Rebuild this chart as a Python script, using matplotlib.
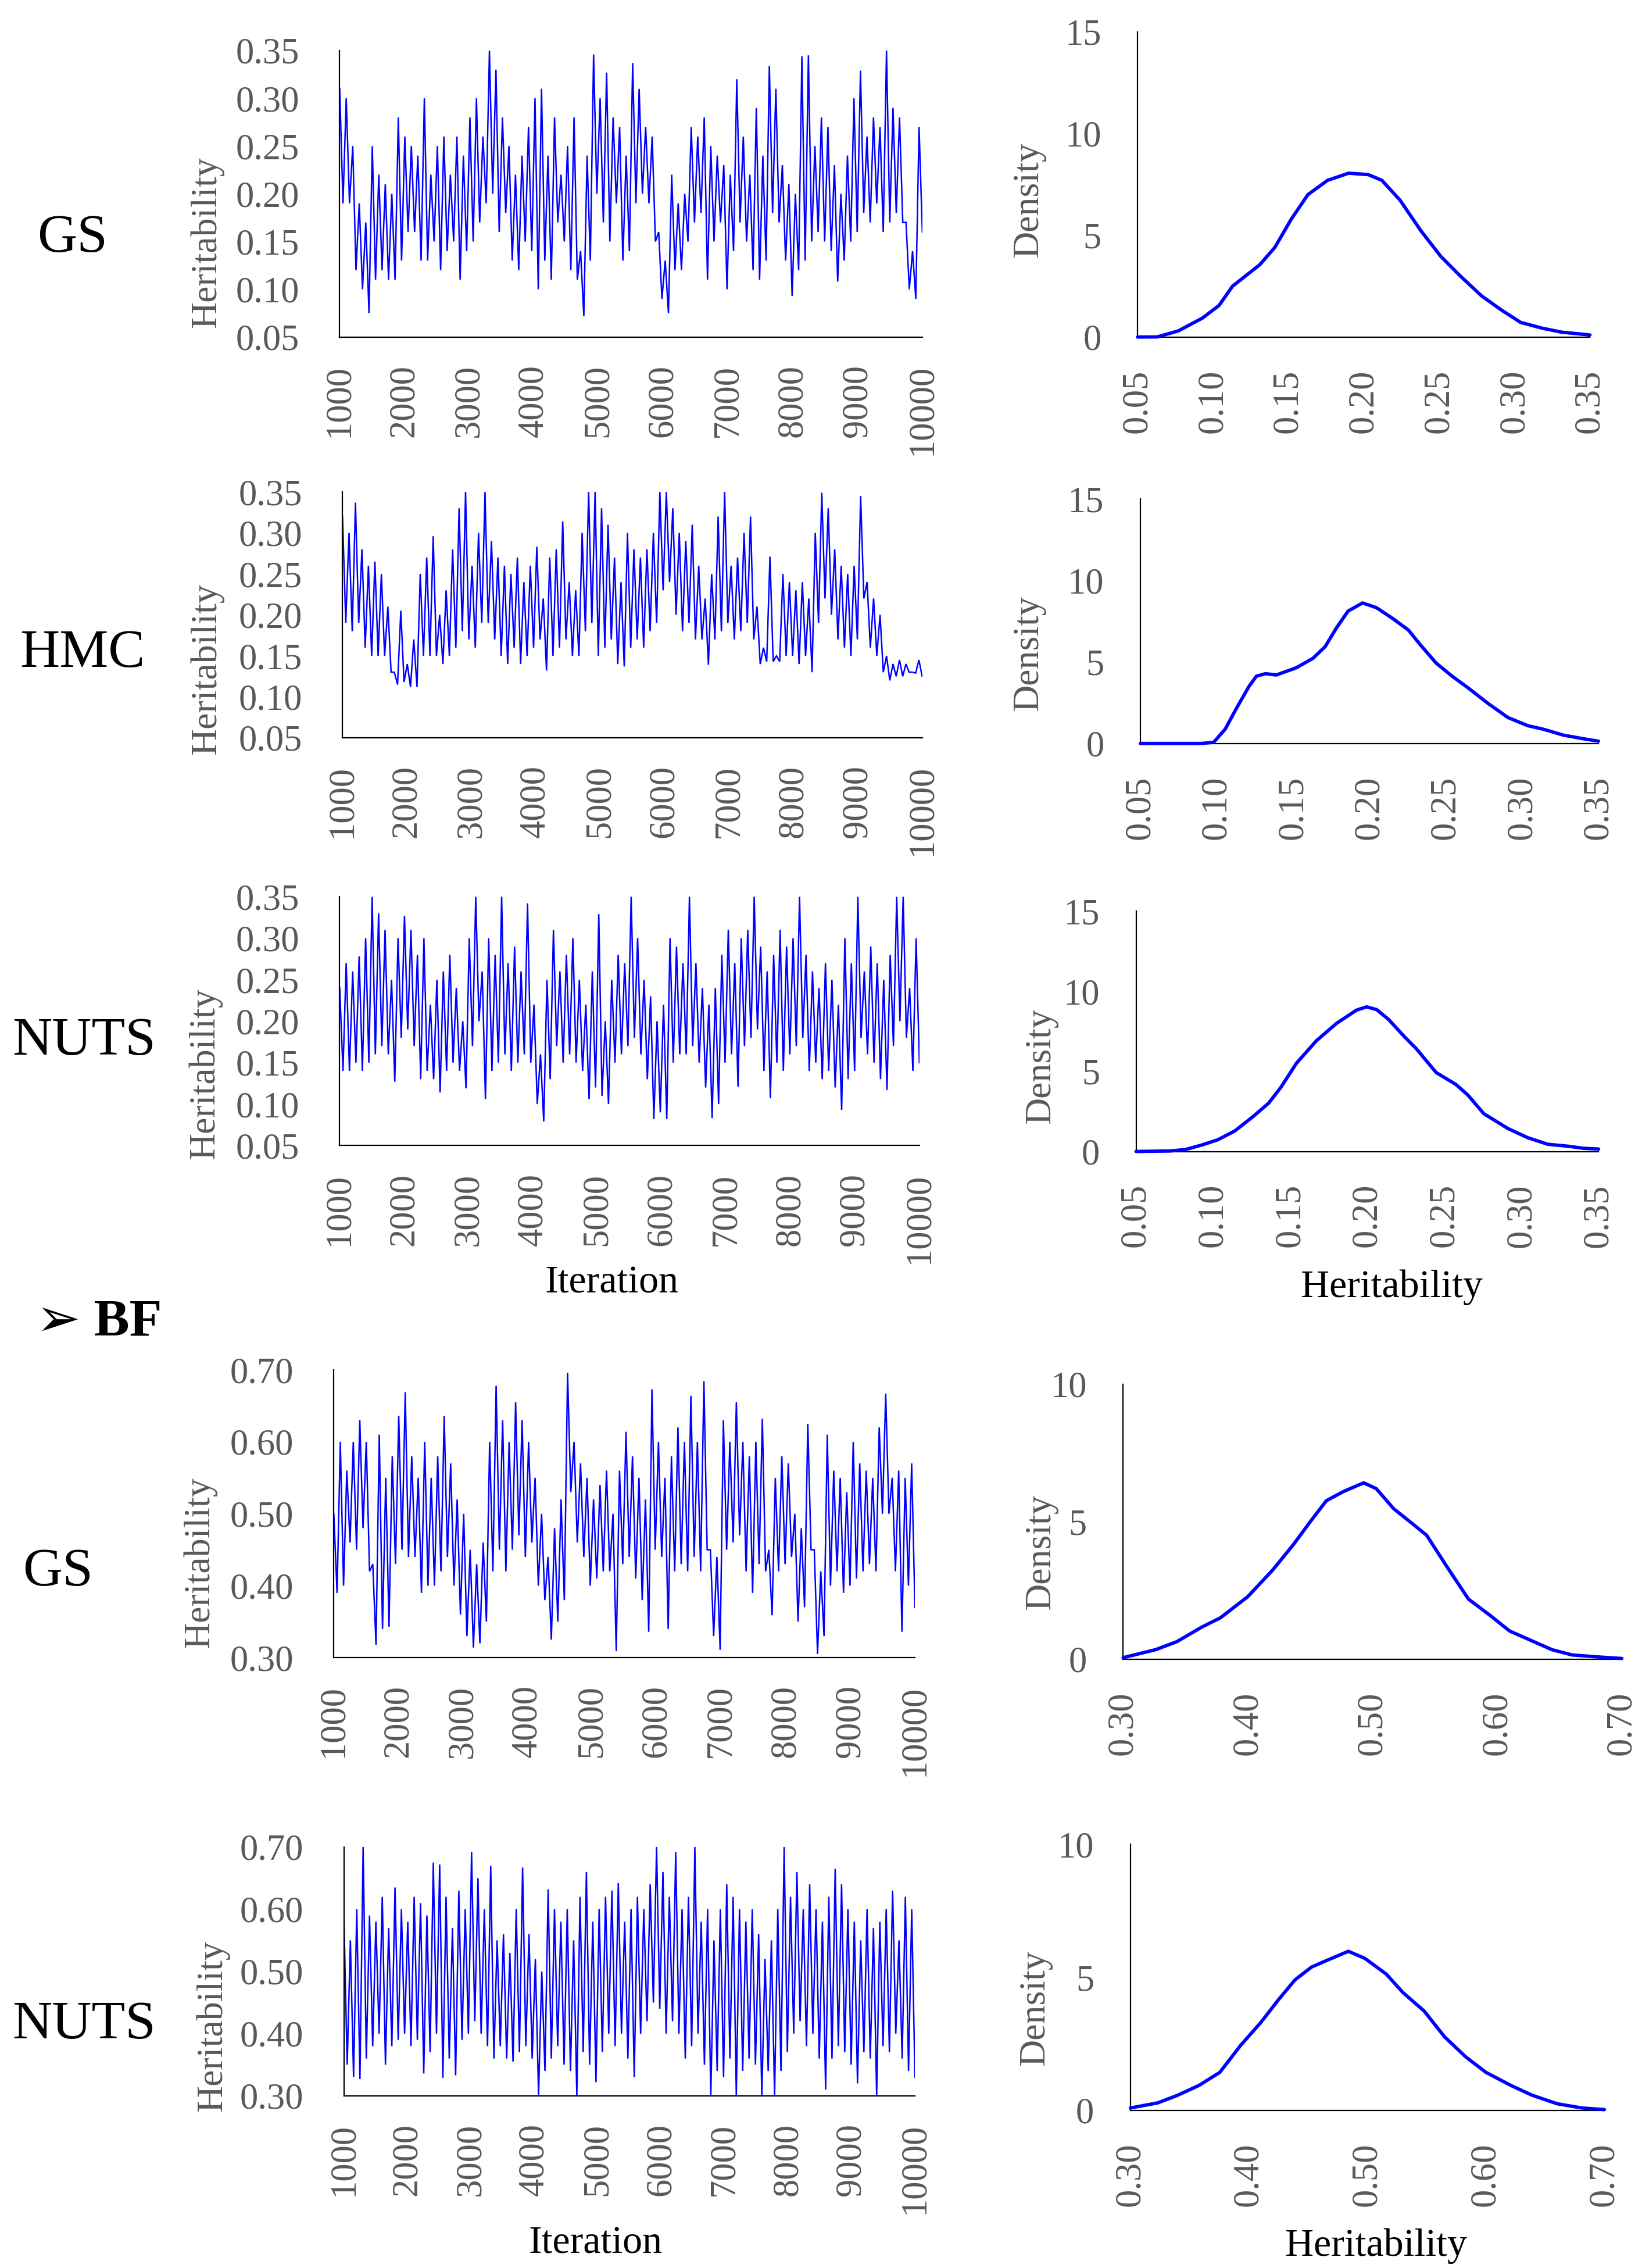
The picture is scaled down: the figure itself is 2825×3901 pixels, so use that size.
import numpy as np
import matplotlib.pyplot as plt

plt.rcParams['font.family'] = ['Liberation Serif', 'DejaVu Sans']

BLUE = '#0000FF'
GREY = '#595959'

iter_ticks = list(range(1000, 10001, 1000))
h_ticks = [0.05, 0.10, 0.15, 0.20, 0.25, 0.30, 0.35]
bf_ticks = [0.30, 0.40, 0.50, 0.60, 0.70]

# chain traces, read per 100 iterations as (high, low) of the band
gs_hi = [.31, .30, .25, .19, .17, .25, .22, .21, .20, .28,
         .26, .25, .24, .30, .22, .25, .26, .22, .26, .24,
         .28, .30, .26, .35, .33, .28, .25, .22, .24, .27,
         .30, .31, .24, .28, .22, .25, .28, .14, .24, .346,
         .30, .327, .28, .27, .24, .337, .31, .27, .26, .16,
         .13, .22, .19, .20, .27, .26, .28, .25, .24, .23,
         .22, .32, .26, .22, .29, .24, .334, .31, .23, .21,
         .20, .344, .345, .25, .28, .27, .23, .20, .24, .30,
         .329, .26, .28, .27, .35, .29, .28, .17, .14, .27]
gs_lo = [.19, .19, .12, .10, .075, .11, .12, .11, .11, .13,
         .16, .16, .13, .13, .15, .12, .14, .15, .11, .14,
         .15, .17, .19, .20, .16, .18, .13, .12, .15, .14,
         .10, .13, .11, .17, .15, .12, .11, .072, .13, .20,
         .17, .15, .19, .13, .14, .19, .20, .19, .15, .09,
         .075, .12, .12, .15, .17, .18, .11, .15, .17, .10,
         .14, .17, .15, .12, .11, .13, .18, .17, .13, .093,
         .12, .13, .15, .16, .15, .14, .108, .13, .15, .16,
         .18, .17, .19, .16, .17, .18, .17, .10, .09, .16]

hmc_hi = [.32, .30, .337, .28, .26, .265, .25, .21, .13, .205,
          .14, .17, .25, .27, .296, .20, .23, .28, .33, .35,
          .26, .30, .35, .29, .27, .26, .25, .27, .24, .26,
          .283, .22, .27, .28, .314, .24, .23, .30, .35, .35,
          .33, .31, .27, .24, .30, .28, .27, .28, .30, .35,
          .35, .33, .30, .29, .31, .26, .22, .25, .32, .35,
          .26, .27, .30, .32, .21, .16, .271, .15, .25, .24,
          .23, .24, .22, .30, .349, .33, .28, .26, .25, .26,
          .345, .24, .22, .20, .15, .14, .145, .14, .13, .145]
hmc_lo = [.19, .18, .19, .16, .15, .15, .15, .13, .115, .118,
          .112, .112, .15, .15, .15, .14, .15, .16, .18, .17,
          .16, .19, .19, .17, .15, .14, .16, .14, .15, .16,
          .17, .132, .15, .16, .17, .15, .15, .18, .19, .15,
          .16, .17, .14, .137, .16, .17, .16, .18, .19, .23,
          .24, .20, .18, .19, .17, .17, .139, .17, .18, .19,
          .17, .18, .19, .17, .14, .143, .143, .143, .15, .15,
          .14, .15, .13, .19, .22, .20, .17, .16, .15, .17,
          .22, .16, .15, .13, .12, .125, .125, .13, .129, .125]

nuts_hi = [.24, .27, .26, .278, .30, .35, .33, .31, .25, .30,
           .327, .31, .28, .30, .22, .25, .26, .28, .24, .20,
           .30, .35, .26, .30, .28, .35, .27, .29, .26, .342,
           .22, .16, .25, .31, .26, .28, .30, .25, .22, .26,
           .329, .20, .25, .28, .27, .35, .30, .25, .23, .20,
           .22, .30, .29, .27, .35, .27, .24, .22, .24, .28,
           .31, .27, .30, .31, .35, .29, .26, .28, .31, .29,
           .30, .35, .28, .26, .24, .27, .25, .22, .30, .27,
           .35, .26, .29, .27, .25, .28, .35, .35, .24, .30]
nuts_lo = [.14, .14, .15, .14, .15, .16, .17, .16, .127, .18,
           .19, .17, .13, .14, .13, .114, .14, .15, .14, .119,
           .17, .20, .106, .14, .15, .16, .14, .15, .16, .15,
           .10, .079, .13, .17, .15, .16, .15, .14, .106, .12,
           .11, .10, .15, .16, .17, .18, .16, .13, .082, .09,
           .082, .15, .16, .16, .17, .15, .12, .083, .10, .15,
           .16, .121, .17, .18, .19, .14, .107, .15, .14, .16,
           .17, .18, .14, .15, .13, .14, .12, .093, .13, .14,
           .18, .16, .15, .13, .117, .17, .20, .18, .14, .15]

bf_gs_hi = [.50, .60, .56, .60, .63, .60, .43, .61, .55, .58,
            .636, .669, .58, .55, .60, .55, .58, .636, .57, .52,
            .50, .45, .43, .46, .60, .678, .63, .60, .655, .63,
            .60, .55, .50, .44, .48, .52, .696, .60, .57, .55,
            .52, .54, .56, .50, .56, .614, .58, .55, .52, .673,
            .60, .55, .58, .62, .60, .664, .60, .684, .45, .44,
            .63, .60, .655, .60, .58, .60, .632, .45, .55, .58,
            .57, .50, .48, .625, .45, .42, .61, .56, .55, .53,
            .60, .57, .56, .55, .62, .667, .55, .56, .55, .57]
bf_gs_lo = [.39, .40, .46, .45, .48, .42, .318, .34, .343, .43,
            .45, .44, .44, .39, .40, .40, .42, .44, .40, .36,
            .33, .314, .32, .35, .42, .45, .42, .45, .47, .44,
            .46, .40, .38, .325, .35, .38, .53, .46, .44, .40,
            .41, .42, .42, .309, .43, .44, .41, .38, .336, .45,
            .44, .34, .42, .43, .42, .44, .42, .45, .33, .311,
            .45, .46, .47, .42, .39, .43, .42, .359, .42, .43,
            .44, .35, .37, .45, .305, .33, .40, .42, .39, .40,
            .41, .42, .43, .42, .50, .50, .42, .336, .40, .37]

bf_nuts_hi = [.58, .55, .60, .70, .59, .58, .62, .57, .635, .60,
              .58, .62, .61, .59, .675, .672, .62, .57, .63, .60,
              .692, .65, .60, .67, .55, .56, .53, .60, .667, .56,
              .52, .50, .632, .60, .58, .60, .55, .62, .66, .58,
              .60, .62, .63, .642, .58, .60, .62, .60, .64, .70,
              .66, .62, .692, .60, .62, .70, .58, .60, .55, .60,
              .64, .62, .60, .58, .60, .56, .52, .55, .60, .70,
              .62, .66, .60, .64, .60, .58, .62, .665, .64, .60,
              .58, .55, .60, .57, .58, .60, .63, .55, .62, .60]
bf_nuts_lo = [.35, .33, .327, .36, .38, .40, .35, .38, .39, .40,
              .38, .39, .336, .37, .40, .329, .36, .333, .39, .40,
              .42, .40, .38, .36, .38, .36, .355, .37, .38, .36,
              .30, .34, .36, .38, .35, .34, .30, .37, .35, .322,
              .37, .40, .38, .40, .36, .33, .40, .42, .45, .44,
              .40, .42, .40, .36, .38, .40, .35, .30, .34, .33,
              .36, .30, .34, .36, .35, .30, .34, .30, .34, .37,
              .40, .42, .38, .40, .36, .31, .36, .38, .37, .35,
              .32, .37, .36, .30, .38, .37, .40, .36, .34, .33]

# posterior densities
dens_gs_x = [0.05, 0.063, 0.077, 0.093, 0.104, 0.113, 0.131, 0.141, 0.152, 0.163, 0.176, 0.19,
             0.203, 0.212, 0.224, 0.238, 0.251, 0.264, 0.278, 0.291, 0.304, 0.318, 0.331, 0.35]
dens_gs_y = [0, 0.005, 0.3, 0.93, 1.55, 2.5, 3.55, 4.4, 5.8, 7.0, 7.7, 8.05,
             7.98, 7.7, 6.73, 5.21, 3.97, 3.0, 2.03, 1.34, 0.72, 0.44, 0.24, 0.1]

dens_hmc_x = [0.05, 0.09, 0.098, 0.1055, 0.113, 0.121, 0.126, 0.132, 0.139, 0.152, 0.163, 0.171,
              0.1785, 0.186, 0.1955, 0.2046, 0.215, 0.2255, 0.233, 0.2437, 0.2541, 0.2646,
              0.2776, 0.2907, 0.3037, 0.314, 0.327, 0.34, 0.35]
dens_hmc_y = [0, 0, 0.07, 0.87, 2.17, 3.48, 4.13, 4.28, 4.2, 4.64, 5.22, 5.94,
              7.1, 8.12, 8.62, 8.33, 7.68, 6.96, 6.09, 4.93, 4.13, 3.41,
              2.46, 1.59, 1.09, 0.87, 0.51, 0.29, 0.14]

dens_nuts_x = [0.05, 0.072, 0.082, 0.0925, 0.103, 0.114, 0.126, 0.136, 0.144, 0.154, 0.167, 0.18,
               0.193, 0.1995, 0.206, 0.2137, 0.224, 0.2317, 0.2446, 0.2575, 0.2652, 0.2755,
               0.291, 0.304, 0.317, 0.33, 0.34, 0.35]
dens_nuts_y = [0, 0.03, 0.12, 0.4, 0.73, 1.28, 2.19, 3.02, 4.02, 5.51, 6.92, 8.0,
               8.83, 9.03, 8.86, 8.25, 7.17, 6.42, 4.93, 4.18, 3.52, 2.36,
               1.44, 0.86, 0.45, 0.33, 0.2, 0.15]

dens_bf_gs_x = [0.30, 0.326, 0.343, 0.363, 0.378, 0.40, 0.42, 0.4365, 0.45, 0.463, 0.477, 0.493,
                0.503, 0.517, 0.533, 0.5435, 0.56, 0.577, 0.594, 0.61, 0.627, 0.644, 0.66, 0.68, 0.70]
dens_bf_gs_y = [0.05, 0.34, 0.63, 1.16, 1.5, 2.27, 3.24, 4.16, 4.99, 5.76, 6.1, 6.41,
                6.2, 5.47, 4.89, 4.5, 3.34, 2.18, 1.6, 1.02, 0.68, 0.34, 0.15, 0.08, 0.02]

dens_bf_nuts_x = [0.30, 0.323, 0.34, 0.358, 0.3755, 0.393, 0.41, 0.425, 0.439, 0.453, 0.467, 0.484,
                  0.498, 0.516, 0.53, 0.548, 0.565, 0.583, 0.60, 0.621, 0.639, 0.66, 0.681, 0.70]
dens_bf_nuts_y = [0.09, 0.28, 0.57, 0.94, 1.43, 2.44, 3.3, 4.16, 4.91, 5.39, 5.66, 5.98,
                  5.71, 5.12, 4.43, 3.73, 2.77, 2.01, 1.43, 0.94, 0.57, 0.25, 0.09, 0.03]


def style(ax, ylab, ylab_pos, xpad, ypad):
	for s in ['top', 'right']:
		ax.spines[s].set_visible(False)
	for s in ['left', 'bottom']:
		ax.spines[s].set_linewidth(1.6)
		ax.spines[s].set_color('black')
	ax.tick_params(axis='x', length=0, pad=xpad, labelsize=45, labelcolor=GREY, labelrotation=90)
	ax.tick_params(axis='y', length=0, pad=ypad, labelsize=45, labelcolor=GREY)
	ax.set_ylabel(ylab, fontsize=46, color=GREY)
	ax.yaxis.set_label_coords(*ylab_pos)
	ax.yaxis.label.set_va('center')


def trace(rect, hi, lo, yticks, ylab_pos):
	ax = fig.add_axes(rect)
	y = np.empty(2 * len(hi))
	y[0::2], y[1::2] = hi, lo
	x = np.linspace(1000, 10000, len(y))
	ax.plot(x, y, color=BLUE, lw=1.8, solid_joinstyle='miter')
	ax.set_xlim(1000, 10000)
	ax.set_ylim(yticks[0], yticks[-1])
	ax.set_xticks(iter_ticks)
	ax.set_xticklabels([str(t) for t in iter_ticks])
	ax.set_yticks(yticks)
	ax.set_yticklabels([f'{t:.2f}' for t in yticks])
	style(ax, 'Heritability', ylab_pos, 34, 50)
	return ax


def density(rect, dx, dy, xticks, ymax, ylab_pos):
	ax = fig.add_axes(rect)
	ax.plot(dx, dy, color=BLUE, lw=4.2, solid_capstyle='round', solid_joinstyle='round',
	        clip_on=False, zorder=3)
	ax.set_xlim(xticks[0], xticks[-1])
	ax.set_ylim(0, ymax)
	ax.set_xticks(xticks)
	ax.set_xticklabels([f'{t:.2f}' for t in xticks])
	ax.set_yticks(list(range(0, ymax + 1, 5)))
	style(ax, 'Density', ylab_pos, 40, 45)
	return ax


fig = plt.figure(figsize=(28.25, 39.01), dpi=100)

trace([0.2069, 0.8514, 0.3548, 0.1263], gs_hi, gs_lo, h_ticks, (-0.228, 0.33))
trace([0.2086, 0.6747, 0.3530, 0.1084], hmc_hi, hmc_lo, h_ticks, (-0.234, 0.28))
trace([0.2069, 0.4949, 0.3530, 0.1097], nuts_hi, nuts_lo, h_ticks, (-0.232, 0.29))
trace([0.2033, 0.2691, 0.3539, 0.1269], bf_gs_hi, bf_gs_lo, bf_ticks, (-0.231, 0.33))
trace([0.2095, 0.0759, 0.3477, 0.1097], bf_nuts_hi, bf_nuts_lo, bf_ticks, (-0.230, 0.28))

density([0.6928, 0.8514, 0.2755, 0.1346], dens_gs_x, dens_gs_y, h_ticks, 15, (-0.240, 0.45))
density([0.6945, 0.6722, 0.2790, 0.1078], dens_hmc_x, dens_hmc_y, h_ticks, 15, (-0.243, 0.37))
density([0.6919, 0.4923, 0.2817, 0.1059], dens_nuts_x, dens_nuts_y, h_ticks, 15, (-0.206, 0.355))
density([0.6840, 0.2685, 0.3037, 0.1212], dens_bf_gs_x, dens_bf_gs_y, bf_ticks, 10, (-0.165, 0.39))
density([0.6884, 0.0695, 0.2887, 0.1173], dens_bf_nuts_x, dens_bf_nuts_y, bf_ticks, 10, (-0.200, 0.386))

# method names on the left
for name, x, y in [('GS', 0.044, 0.8948), ('HMC', 0.0502, 0.7117), ('NUTS', 0.0511, 0.5408),
                   ('GS', 0.0352, 0.3068), ('NUTS', 0.0511, 0.1071)]:
	fig.text(x, y, name, fontsize=68, ha='center', va='center')
fig.text(0.022, 0.4165, '➢ BF', fontsize=66, fontweight='bold', ha='left', va='center')

# shared x labels
fig.text(0.3724, 0.4343, 'Iteration', fontsize=49, ha='center', va='center')
fig.text(0.8477, 0.4324, 'Heritability', fontsize=49, ha='center', va='center')
fig.text(0.3627, 0.0108, 'Iteration', fontsize=49, ha='center', va='center')
fig.text(0.8380, 0.0096, 'Heritability', fontsize=49, ha='center', va='center')

fig.savefig('out.png', dpi=100)
